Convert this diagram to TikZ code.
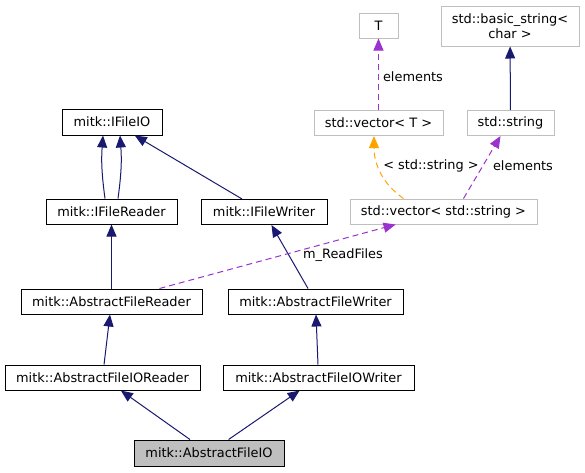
\documentclass[tikz,border=0pt]{standalone}
\usepackage{fontspec}
\setmainfont{DejaVu Sans}
\usetikzlibrary{arrows.meta}
\definecolor{navy}{HTML}{191970}
\definecolor{orchid}{HTML}{9A32CD}
\definecolor{edgegray}{HTML}{BFBFBF}
\definecolor{orange}{HTML}{FFA500}
\begin{document}
\begin{tikzpicture}[x=1pt,y=-1pt,
  font=\fontsize{12.9}{15}\selectfont,
  box/.style={draw=black,line width=1pt,minimum height=25pt,inner sep=0pt},
  gbox/.style={draw=edgegray,line width=1pt,minimum height=25pt,inner sep=0pt},
  inh/.style={navy,line width=1pt,-{Triangle[length=12pt,width=10pt]}},
  uses/.style={orchid,line width=1pt,dash pattern=on 6pt off 4pt,-{Triangle[length=12pt,width=10pt]}},
  tmpl/.style={orange,line width=1pt,dash pattern=on 6pt off 4pt,-{Triangle[length=12pt,width=10pt]}}]
\useasboundingbox (0,0) rectangle (585,472);
% classes
\node [box,minimum width=100pt,minimum height=26pt] (ifileio) at (112,122) {mitk::IFileIO};
\node [box,minimum width=131pt] (ifilereader) at (111.5,211.5) {mitk::IFileReader};
\node [box,minimum width=126pt] (ifilewriter) at (264,212) {mitk::IFileWriter};
\node [box,minimum width=181pt] (afreader) at (111.5,301.5) {mitk::AbstractFileReader};
\node [box,minimum width=175pt] (afwriter) at (315.5,301.5) {mitk::AbstractFileWriter};
\node [box,minimum width=195pt] (afioreader) at (102.5,377.5) {mitk::AbstractFileIOReader};
\node [box,minimum width=191pt] (afiowriter) at (318.5,377.5) {mitk::AbstractFileIOWriter};
\node [box,fill=edgegray,minimum width=150pt,minimum height=26pt] (afio) at (209,453) {mitk::AbstractFileIO};
% std types
\node [gbox,minimum width=39pt] (t) at (378.5,25.5) {T};
\node [gbox,minimum width=138pt,minimum height=40pt,align=center] (bstr) at (510,26) {std::basic\_string<\\char >};
\node [gbox,minimum width=129pt] (vect) at (378.5,123) {std::vector< T >};
\node [gbox,minimum width=87pt] (str) at (510.5,123) {std::string};
\node [gbox,minimum width=187pt] (vecstr) at (443.5,211.5) {std::vector< std::string >};
% inheritance
\draw [inh] ([xshift=-6.5pt]ifilereader.north) to[bend left=6] ([xshift=-9pt]ifileio.south);
\draw [inh] ([xshift=6.5pt]ifilereader.north) to[bend right=6] ([xshift=8pt]ifileio.south);
\draw [inh] (ifilewriter) -- (ifileio);
\draw [inh] (afreader) -- (ifilereader);
\draw [inh] (afwriter) -- (ifilewriter);
\draw [inh] (afioreader) -- (afreader);
\draw [inh] (afiowriter) -- (afwriter);
\draw [inh] (afio) -- (afioreader);
\draw [inh] (afio) -- (afiowriter);
\draw [inh] (str) -- (bstr);
% usage
\draw [uses] (afreader) -- (vecstr);
\draw [uses] (vect) -- (t);
\draw [uses] ([xshift=20pt]vecstr.north) -- ([xshift=-10pt]str.south);
\draw [tmpl] ([xshift=-40pt]vecstr.north) to[out=145,in=-90] ([xshift=-4.5pt]vect.south);
% labels
\node (lreadfiles) at (343,255) {m\_ReadFiles};
\node (lelemt) at (413,77) {elements};
\node (lelemstr) at (523,166) {elements};
\node (ltmpl) at (431,166) {< std::string >};
\end{tikzpicture}
\end{document}
